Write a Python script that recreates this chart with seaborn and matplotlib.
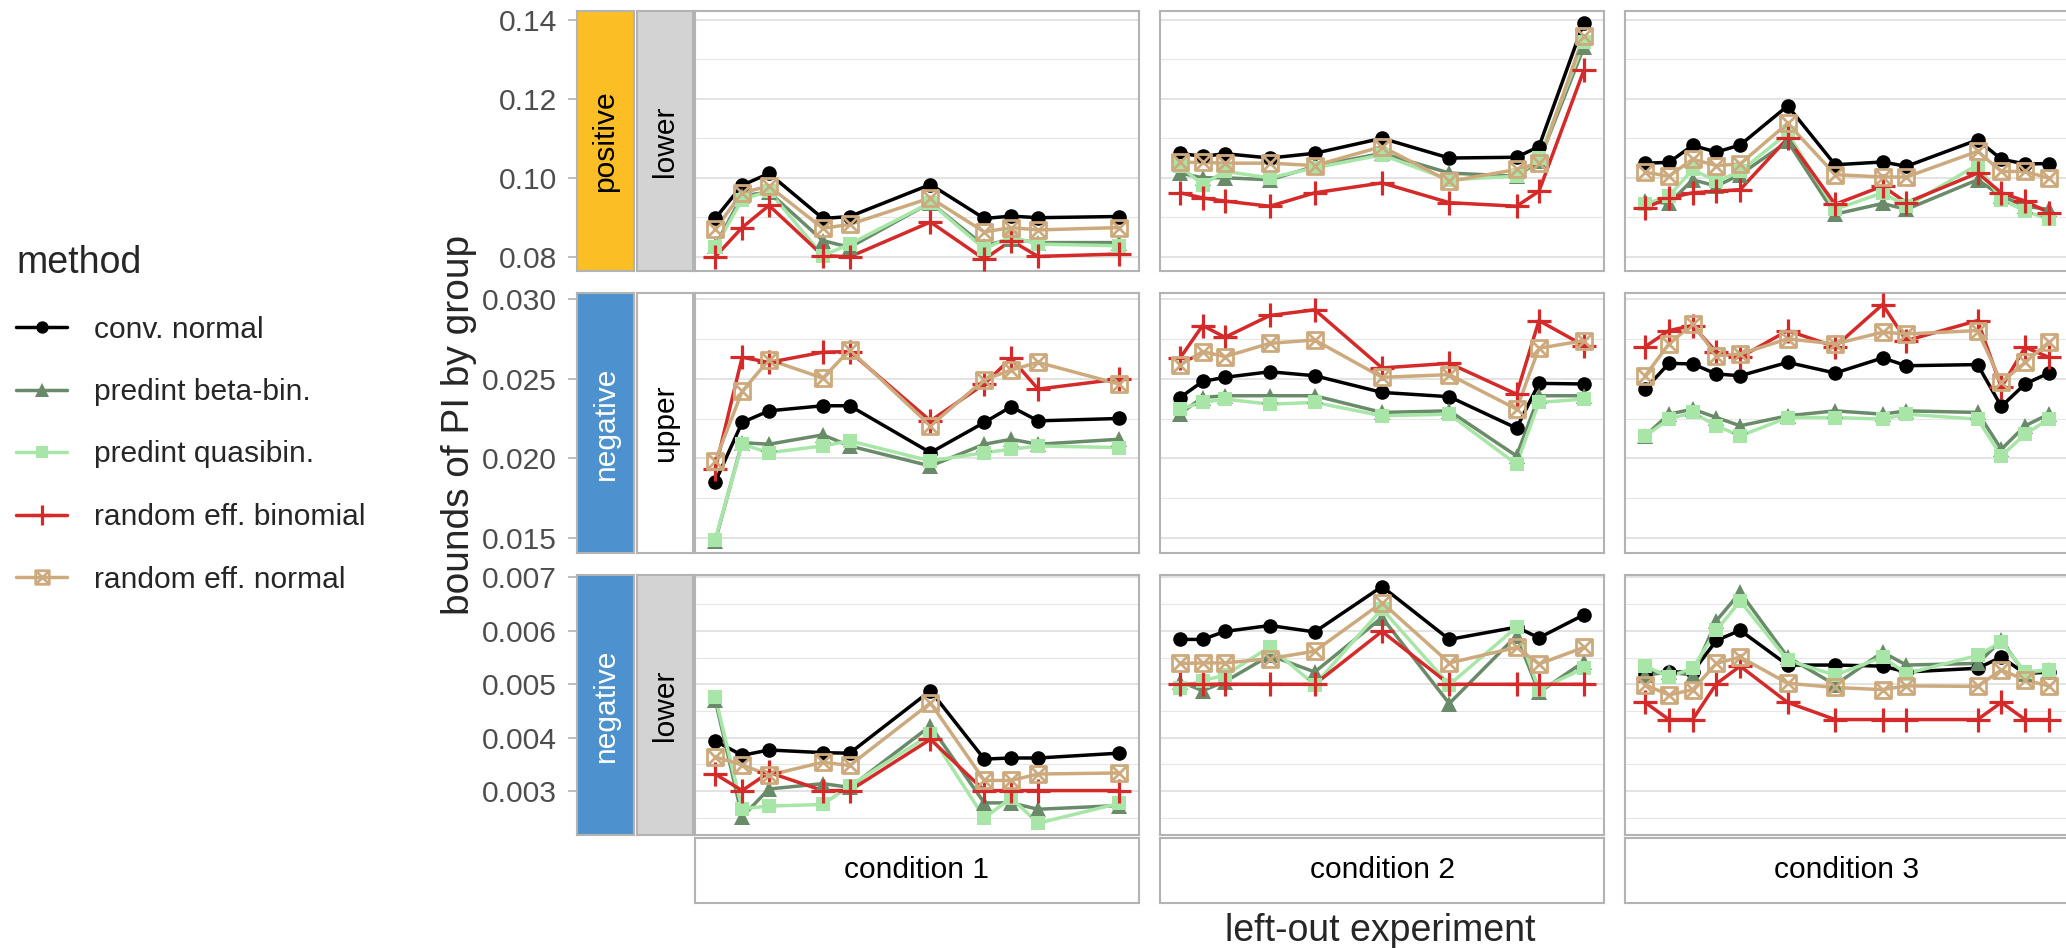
import matplotlib
matplotlib.use('Agg')
import matplotlib.pyplot as plt
from matplotlib.lines import Line2D
from matplotlib.path import Path
from matplotlib.ticker import MultipleLocator, FormatStrFormatter
import pandas as pd
import seaborn as sns

methods = ['conv. normal', 'predint beta-bin.', 'predint quasibin.',
           'random eff. binomial', 'random eff. normal']
conditions = ['condition 1', 'condition 2', 'condition 3']
row_sign = ['positive', 'negative', 'negative']
row_bound = ['lower', 'upper', 'lower']

# left-out experiment ids per condition
exp_c1 = [1, 2, 3, 5, 6, 9, 11, 12, 13, 16]
exp_c2 = [1, 2, 3, 5, 7, 10, 13, 16, 17, 19]
exp_c3 = [1, 2, 3, 4, 5, 7, 9, 11, 12, 15, 16, 17, 18]

# rows of each panel follow the order of `methods`
pos_lower_c1 = [
    [0.0897, 0.0981, 0.1011, 0.0897, 0.0902, 0.0983, 0.0897, 0.0903, 0.0899, 0.0902],
    [0.0828, 0.0954, 0.0964, 0.0841, 0.0824, 0.0937, 0.0828, 0.0845, 0.0836, 0.0836],
    [0.0824, 0.0945, 0.0966, 0.0803, 0.0832, 0.0937, 0.0820, 0.0851, 0.0832, 0.0828],
    [0.0800, 0.0874, 0.0930, 0.0803, 0.0800, 0.0888, 0.0794, 0.0841, 0.0801, 0.0807],
    [0.0870, 0.0962, 0.0979, 0.0872, 0.0882, 0.0949, 0.0863, 0.0874, 0.0868, 0.0874],
]
pos_lower_c2 = [
    [0.1062, 0.1054, 0.1061, 0.1050, 0.1062, 0.1100, 0.1050, 0.1052, 0.1079, 0.1393],
    [0.1012, 0.1000, 0.1000, 0.0995, 0.1029, 0.1062, 0.1012, 0.1004, 0.1042, 0.1330],
    [0.1029, 0.0983, 0.1016, 0.1000, 0.1025, 0.1058, 0.0995, 0.1004, 0.1050, 0.1343],
    [0.0962, 0.0949, 0.0941, 0.0928, 0.0962, 0.0987, 0.0937, 0.0928, 0.0966, 0.1272],
    [0.1039, 0.1039, 0.1037, 0.1037, 0.1031, 0.1079, 0.0991, 0.1021, 0.1037, 0.1360],
]
pos_lower_c3 = [
    [0.1037, 0.1039, 0.1082, 0.1065, 0.1083, 0.1182, 0.1033, 0.1040, 0.1029, 0.1096, 0.1047, 0.1035, 0.1036],
    [0.0941, 0.0935, 0.0995, 0.0979, 0.1008, 0.1092, 0.0908, 0.0935, 0.0920, 0.0995, 0.0954, 0.0928, 0.0920],
    [0.0933, 0.0954, 0.1021, 0.0991, 0.1016, 0.1113, 0.0920, 0.0962, 0.0928, 0.1033, 0.0945, 0.0916, 0.0895],
    [0.0924, 0.0949, 0.0962, 0.0966, 0.0970, 0.1100, 0.0933, 0.0979, 0.0937, 0.1012, 0.0962, 0.0941, 0.0912],
    [0.1014, 0.1004, 0.1047, 0.1031, 0.1035, 0.1138, 0.1008, 0.1002, 0.1002, 0.1067, 0.1016, 0.1016, 0.0999],
]
neg_upper_c1 = [
    [0.01851, 0.02226, 0.02299, 0.02331, 0.02331, 0.02036, 0.02226, 0.02325, 0.02236, 0.02251],
    [0.01479, 0.02099, 0.02089, 0.02148, 0.02078, 0.01952, 0.02089, 0.02120, 0.02089, 0.02120],
    [0.01489, 0.02089, 0.02036, 0.02078, 0.02110, 0.01984, 0.02036, 0.02057, 0.02078, 0.02068],
    [0.01931, 0.02636, 0.02604, 0.02668, 0.02672, 0.02236, 0.02468, 0.02630, 0.02436, 0.02499],
    [0.01984, 0.02421, 0.02621, 0.02505, 0.02682, 0.02205, 0.02495, 0.02556, 0.02604, 0.02468],
]
neg_upper_c2 = [
    [0.02383, 0.02484, 0.02510, 0.02545, 0.02520, 0.02415, 0.02388, 0.02190, 0.02472, 0.02468],
    [0.02282, 0.02383, 0.02394, 0.02394, 0.02394, 0.02289, 0.02299, 0.02015, 0.02394, 0.02394],
    [0.02310, 0.02352, 0.02373, 0.02341, 0.02352, 0.02268, 0.02278, 0.01963, 0.02352, 0.02373],
    [0.02632, 0.02836, 0.02762, 0.02899, 0.02935, 0.02569, 0.02598, 0.02404, 0.02867, 0.02710],
    [0.02588, 0.02672, 0.02640, 0.02724, 0.02745, 0.02510, 0.02527, 0.02310, 0.02693, 0.02741],
]
neg_upper_c3 = [
    [0.02436, 0.02598, 0.02594, 0.02531, 0.02520, 0.02604, 0.02537, 0.02632, 0.02583, 0.02590, 0.02327, 0.02468, 0.02537],
    [0.02141, 0.02278, 0.02310, 0.02257, 0.02205, 0.02268, 0.02299, 0.02278, 0.02299, 0.02289, 0.02057, 0.02205, 0.02278],
    [0.02141, 0.02247, 0.02289, 0.02205, 0.02141, 0.02257, 0.02257, 0.02247, 0.02278, 0.02247, 0.02015, 0.02152, 0.02247],
    [0.02703, 0.02804, 0.02836, 0.02668, 0.02636, 0.02804, 0.02703, 0.02968, 0.02741, 0.02867, 0.02447, 0.02699, 0.02636],
    [0.02520, 0.02720, 0.02846, 0.02646, 0.02657, 0.02752, 0.02720, 0.02794, 0.02783, 0.02804, 0.02478, 0.02604, 0.02731],
]
neg_lower_c1 = [
    [0.00394, 0.00367, 0.00377, 0.00372, 0.00371, 0.00488, 0.00360, 0.00362, 0.00362, 0.00371],
    [0.00471, 0.00252, 0.00304, 0.00314, 0.00307, 0.00422, 0.00278, 0.00278, 0.00266, 0.00273],
    [0.00477, 0.00267, 0.00272, 0.00275, 0.00310, 0.00406, 0.00250, 0.00287, 0.00240, 0.00277],
    [0.00332, 0.00301, 0.00335, 0.00301, 0.00301, 0.00397, 0.00301, 0.00301, 0.00301, 0.00301],
    [0.00364, 0.00349, 0.00330, 0.00354, 0.00348, 0.00465, 0.00320, 0.00320, 0.00332, 0.00334],
]
neg_lower_c2 = [
    [0.00584, 0.00584, 0.00599, 0.00610, 0.00598, 0.00683, 0.00584, 0.00607, 0.00587, 0.00630],
    [0.00505, 0.00488, 0.00505, 0.00554, 0.00523, 0.00625, 0.00464, 0.00591, 0.00485, 0.00542],
    [0.00493, 0.00507, 0.00517, 0.00570, 0.00499, 0.00641, 0.00499, 0.00607, 0.00490, 0.00530],
    [0.00500, 0.00500, 0.00500, 0.00500, 0.00500, 0.00599, 0.00500, 0.00500, 0.00500, 0.00500],
    [0.00539, 0.00540, 0.00540, 0.00548, 0.00562, 0.00653, 0.00540, 0.00569, 0.00538, 0.00569],
]
neg_lower_c3 = [
    [0.00520, 0.00523, 0.00523, 0.00582, 0.00601, 0.00536, 0.00536, 0.00534, 0.00523, 0.00530, 0.00551, 0.00520, 0.00523],
    [0.00517, 0.00523, 0.00517, 0.00619, 0.00672, 0.00551, 0.00499, 0.00560, 0.00536, 0.00539, 0.00582, 0.00520, 0.00527],
    [0.00534, 0.00514, 0.00530, 0.00601, 0.00656, 0.00545, 0.00517, 0.00551, 0.00520, 0.00554, 0.00579, 0.00523, 0.00527],
    [0.00466, 0.00434, 0.00434, 0.00501, 0.00534, 0.00466, 0.00434, 0.00434, 0.00434, 0.00434, 0.00466, 0.00434, 0.00434],
    [0.00499, 0.00480, 0.00490, 0.00539, 0.00551, 0.00502, 0.00494, 0.00490, 0.00497, 0.00496, 0.00527, 0.00508, 0.00497],
]

exps = [exp_c1, exp_c2, exp_c3]
grid = [[pos_lower_c1, pos_lower_c2, pos_lower_c3],
        [neg_upper_c1, neg_upper_c2, neg_upper_c3],
        [neg_lower_c1, neg_lower_c2, neg_lower_c3]]

recs = []
for r in range(3):
    for c in range(3):
        for m, vals in zip(methods, grid[r][c]):
            for x, v in zip(exps[c], vals):
                recs.append({'row': r, 'col': c, 'method': m, 'experiment': x, 'bound': v})
df = pd.DataFrame(recs)

# square with a cross inside (ggplot shape 7)
sq_cross = Path([(-1, -1), (1, -1), (1, 1), (-1, 1), (-1, -1),
                 (-1, -1), (1, 1), (-1, 1), (1, -1)],
                [Path.MOVETO, Path.LINETO, Path.LINETO, Path.LINETO, Path.CLOSEPOLY,
                 Path.MOVETO, Path.LINETO, Path.MOVETO, Path.LINETO])

colors = {'conv. normal': '#000000', 'predint beta-bin.': '#698B69',
          'predint quasibin.': '#A8E6A8', 'random eff. binomial': '#D42A2A',
          'random eff. normal': '#CDAA7D'}
mstyle = {
    'conv. normal': dict(marker='o', markersize=10.5, markeredgewidth=0),
    'predint beta-bin.': dict(marker='^', markersize=12, markeredgewidth=0),
    'predint quasibin.': dict(marker='s', markersize=10, markeredgewidth=0),
    'random eff. binomial': dict(marker='+', markersize=17, markeredgewidth=2.3),
    'random eff. normal': dict(marker=sq_cross, markersize=11.5, markeredgewidth=2.0,
                               markerfacecolor='none'),
}

sns.set_style('white')
plt.rcParams['font.family'] = ['Liberation Sans', 'DejaVu Sans']

W, H = 2066, 948
fig, axes = plt.subplots(3, 3, figsize=(W / 100, H / 100), dpi=100,
                         sharex='col', sharey='row')
# last column runs off the right edge, as in the original
fig.subplots_adjust(left=695 / W, right=2069 / W, top=1 - 10.7 / H, bottom=1 - 835 / H,
                    wspace=21 / 444, hspace=21.7 / 260.3)

border = '#B3B3B3'
txt_size = 21.6
locs = [(0.02, 0.01, '%.2f'), (0.005, 0.0025, '%.3f'), (0.001, 0.0005, '%.3f')]

for r in range(3):
    for c in range(3):
        ax = axes[r, c]
        sub = df[(df['row'] == r) & (df['col'] == c)]
        for m in methods:
            d = sub[sub['method'] == m]
            sns.lineplot(data=d, x='experiment', y='bound', color=colors[m],
                         linewidth=2.5, errorbar=None, legend=False, ax=ax, zorder=2)
        for m in methods:
            d = sub[sub['method'] == m]
            st = dict(mstyle[m])
            st.setdefault('markerfacecolor', colors[m])
            sns.lineplot(data=d, x='experiment', y='bound', color=colors[m],
                         linestyle='none', markeredgecolor=colors[m], errorbar=None,
                         legend=False, ax=ax, zorder=3, **st)
        ax.set_xlabel('')
        ax.set_ylabel('')
        ax.yaxis.set_major_locator(MultipleLocator(locs[r][0]))
        ax.yaxis.set_minor_locator(MultipleLocator(locs[r][1]))
        ax.grid(False)
        ax.grid(True, axis='y', which='major', color='#DEDEDE', linewidth=1.2, zorder=0)
        ax.grid(True, axis='y', which='minor', color='#E6E6E6', linewidth=0.8, zorder=0)
        ax.tick_params(axis='both', which='both', length=0, labelleft=False, labelbottom=False)
        for s in ax.spines.values():
            s.set_color(border)
            s.set_linewidth(1.5)
        ax.set_axisbelow(True)

# row strips (outside, left) carrying the y axis
for r in range(3):
    pos = axes[r, 0].get_position()
    ylim = axes[r, 0].get_ylim()
    sign_ax = fig.add_axes([577 / W, pos.y0, 57 / W, pos.height])
    bnd_ax = fig.add_axes([637 / W, pos.y0, 56 / W, pos.height])
    sign_col = '#FBBE24' if row_sign[r] == 'positive' else '#4D92CE'
    sign_txt = 'black' if row_sign[r] == 'positive' else 'white'
    bnd_col = '#D3D3D3' if row_bound[r] == 'lower' else 'white'
    for sax, fc, lab, tc in [(sign_ax, sign_col, row_sign[r], sign_txt),
                             (bnd_ax, bnd_col, row_bound[r], 'black')]:
        sax.set_facecolor(fc)
        sax.set_xticks([])
        sax.set_ylim(ylim)
        for s in sax.spines.values():
            s.set_color(border)
            s.set_linewidth(1.5)
        sax.text(0.5, 0.5, lab, transform=sax.transAxes, rotation=90,
                 ha='center', va='center', fontsize=txt_size, color=tc)
    bnd_ax.set_yticks([])
    sign_ax.yaxis.set_major_locator(MultipleLocator(locs[r][0]))
    sign_ax.yaxis.set_major_formatter(FormatStrFormatter(locs[r][2]))
    sign_ax.set_ylim(ylim)
    sign_ax.tick_params(axis='y', left=True, length=6.5, width=1.2, color=border,
                        labelcolor='#4D4D4D', labelsize=txt_size, pad=8)

# column strips (bottom)
for c in range(3):
    pos = axes[2, c].get_position()
    cax = fig.add_axes([pos.x0, 1 - 903 / H, pos.width, 65 / H])
    cax.set_facecolor('white')
    cax.set_xticks([])
    cax.set_yticks([])
    for s in cax.spines.values():
        s.set_color(border)
        s.set_linewidth(1.5)
    cax.text(0.5, 0.5, conditions[c], transform=cax.transAxes, ha='center',
             va='center', fontsize=txt_size, color='black')

fig.text(1380 / W, 1 - 931 / H, 'left-out experiment', ha='center', va='center',
         fontsize=27)
fig.text(459 / W, 1 - 425 / H, 'bounds of PI by group', ha='center', va='center',
         rotation=90, fontsize=28)

handles = []
for m in methods:
    st = dict(mstyle[m])
    st.setdefault('markerfacecolor', colors[m])
    st['markersize'] = st['markersize'] * 0.85
    handles.append(Line2D([], [], color=colors[m], linewidth=2.5,
                          markeredgecolor=colors[m], **st))
fig.legend(handles, methods, loc='upper left', bbox_to_anchor=(16 / W, 1 - 245 / H),
           frameon=False, title='method', fontsize=txt_size, title_fontsize=27,
           handlelength=1.7, handletextpad=0.9, labelspacing=1.15, borderpad=0,
           borderaxespad=0, alignment='left')

fig.savefig('out.png', dpi=100)
